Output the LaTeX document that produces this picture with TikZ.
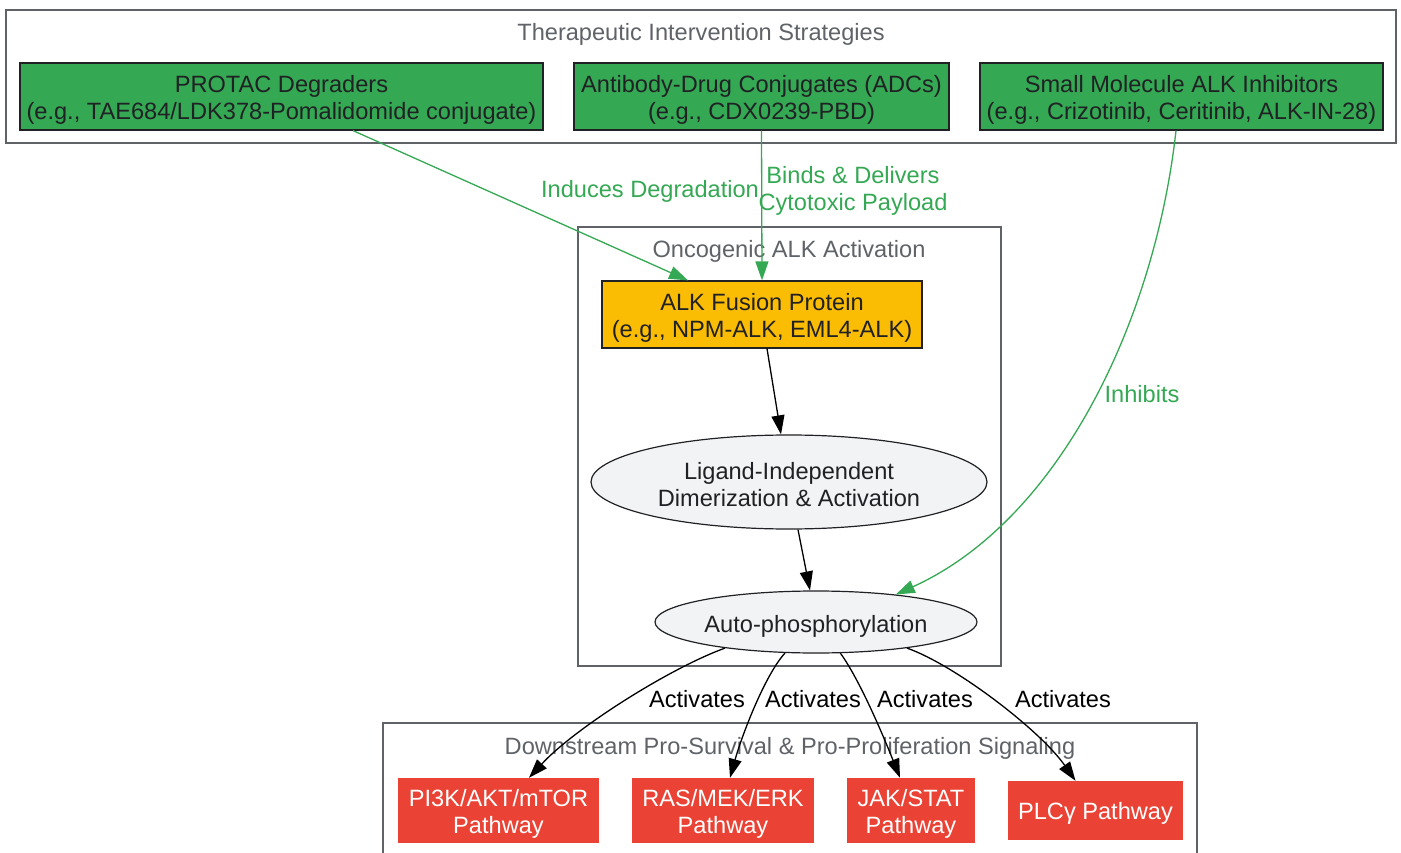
\documentclass[tikz,border=0pt]{standalone}
\usepackage{fontspec}
\setmainfont{Liberation Sans}
\usetikzlibrary{shapes.geometric,arrows.meta,calc}
\definecolor{gGreen}{HTML}{34A853}
\definecolor{gYellow}{HTML}{FBBC04}
\definecolor{gRed}{HTML}{EA4335}
\definecolor{gLight}{HTML}{F1F3F4}
\definecolor{gGray}{HTML}{5F6368}
\definecolor{gDark}{HTML}{202124}
\tikzset{
  every node/.style={font=\fontsize{23.6}{27}\selectfont, inner sep=0pt, align=center},
  cluster/.style={draw=gGray, line width=1.3pt},
  ctitle/.style={text=gGray},
  greenbox/.style={draw=gDark, fill=gGreen, line width=1.2pt},
  yellowbox/.style={draw=gDark, fill=gYellow, line width=1.2pt},
  redbox/.style={fill=gRed},
  ell/.style={ellipse, draw=gDark, fill=gLight, line width=1.2pt},
  dtext/.style={yshift=-3pt, text=gDark},
  wtext/.style={yshift=-3pt, text=white},
  blackedge/.style={draw=black, line width=1.3pt, -{Triangle[length=19pt,width=13pt]}},
  greenedge/.style={draw=gGreen, line width=1.3pt, -{Triangle[length=19pt,width=13pt]}},
  glabel/.style={text=gGreen},
  blabel/.style={text=black},
}
\begin{document}
\begin{tikzpicture}[x=1pt,y=-1pt]
\useasboundingbox (0,0) rectangle (1401,853);
% clusters
\draw[cluster] (6,10) rectangle (1396,143);
\node[ctitle] (t1) at (701,34) {Therapeutic Intervention Strategies};
\draw[cluster] (578,227) rectangle (1001,666);
\node[ctitle] (t2) at (789,251) {Oncogenic ALK Activation};
\draw[cluster] (383,853) -- (383,723) -- (1197,723) -- (1197,853);
\node[ctitle] (t3) at (790,748) {Downstream Pro-Survival \& Pro-Proliferation Signaling};
% top nodes
\node[greenbox, minimum width=523, minimum height=67, label={[dtext]center:{PROTAC Degraders\\(e.g., TAE684/LDK378-Pomalidomide conjugate)}}] (protac) at (281.5,96.5) {};
\node[greenbox, minimum width=375, minimum height=67, label={[dtext]center:{Antibody-Drug Conjugates (ADCs)\\(e.g., CDX0239-PBD)}}] (adc) at (761.5,96.5) {};
\node[greenbox, minimum width=403, minimum height=67, label={[dtext]center:{Small Molecule ALK Inhibitors\\(e.g., Crizotinib, Ceritinib, ALK-IN-28)}}] (smi) at (1181.5,96.5) {};
% middle
\node[yellowbox, minimum width=320, minimum height=67, label={[dtext]center:{ALK Fusion Protein\\(e.g., NPM-ALK, EML4-ALK)}}] (alk) at (762,314.5) {};
\node[ell, minimum width=396, minimum height=94, label={[dtext]center:{Ligand-Independent\\Dimerization \& Activation}}] (lig) at (789,482) {};
\node[ell, minimum width=322, minimum height=62, label={[dtext,yshift=-1pt]center:{Auto-phosphorylation}}] (auto) at (816,622) {};
% bottom
\node[redbox, minimum width=201, minimum height=65, label={[wtext]center:{PI3K/AKT/mTOR\\Pathway}}] (pi3k) at (498.5,810.5) {};
\node[redbox, minimum width=182, minimum height=65, label={[wtext]center:{RAS/MEK/ERK\\Pathway}}] (ras) at (723,810.5) {};
\node[redbox, minimum width=128, minimum height=65, label={[wtext]center:{JAK/STAT\\Pathway}}] (jak) at (911,810.5) {};
\node[redbox, minimum width=175, minimum height=59, label={[wtext]center:{PLCγ Pathway}}] (plc) at (1095.5,810.5) {};
% green edges
\draw[greenedge] ([xshift=71.5pt]protac.south) -- ([xshift=-74pt]alk.north);
\node[glabel] (l1) at (650,191) {Induces Degradation};
\draw[greenedge] (adc.south) -- (alk.north);
\node[glabel] (l2) at (853,191) {Binds \& Delivers\\Cytotoxic Payload};
\draw[greenedge] ([xshift=-5.5pt]smi.south) .. controls (1155,320) and (1060,520) .. (auto.19);
\node[glabel] (l3) at (1142,394) {Inhibits};
% black edges
\draw[blackedge] ([xshift=5pt]alk.south) -- ([xshift=-8pt]lig.north);
\draw[blackedge] ([xshift=9pt]lig.south) -- ([xshift=-6pt]auto.north);
\draw[blackedge] (auto.196) .. controls (670,668) and (575,728) .. ([xshift=30.5pt]pi3k.north);
\draw[blackedge] (auto.225) .. controls (765,675) and (742,735) .. ([xshift=7pt]ras.north);
\draw[blackedge] (auto.308) .. controls (860,680) and (885,740) .. ([xshift=-11pt]jak.north);
\draw[blackedge] (auto.344) .. controls (955,665) and (1040,730) .. ([xshift=-20pt]plc.north);
\node[blabel] (a1) at (697,699) {Activates};
\node[blabel] (a2) at (813,699) {Activates};
\node[blabel] (a3) at (925,699) {Activates};
\node[blabel] (a4) at (1063,699) {Activates};
\end{tikzpicture}
\end{document}
